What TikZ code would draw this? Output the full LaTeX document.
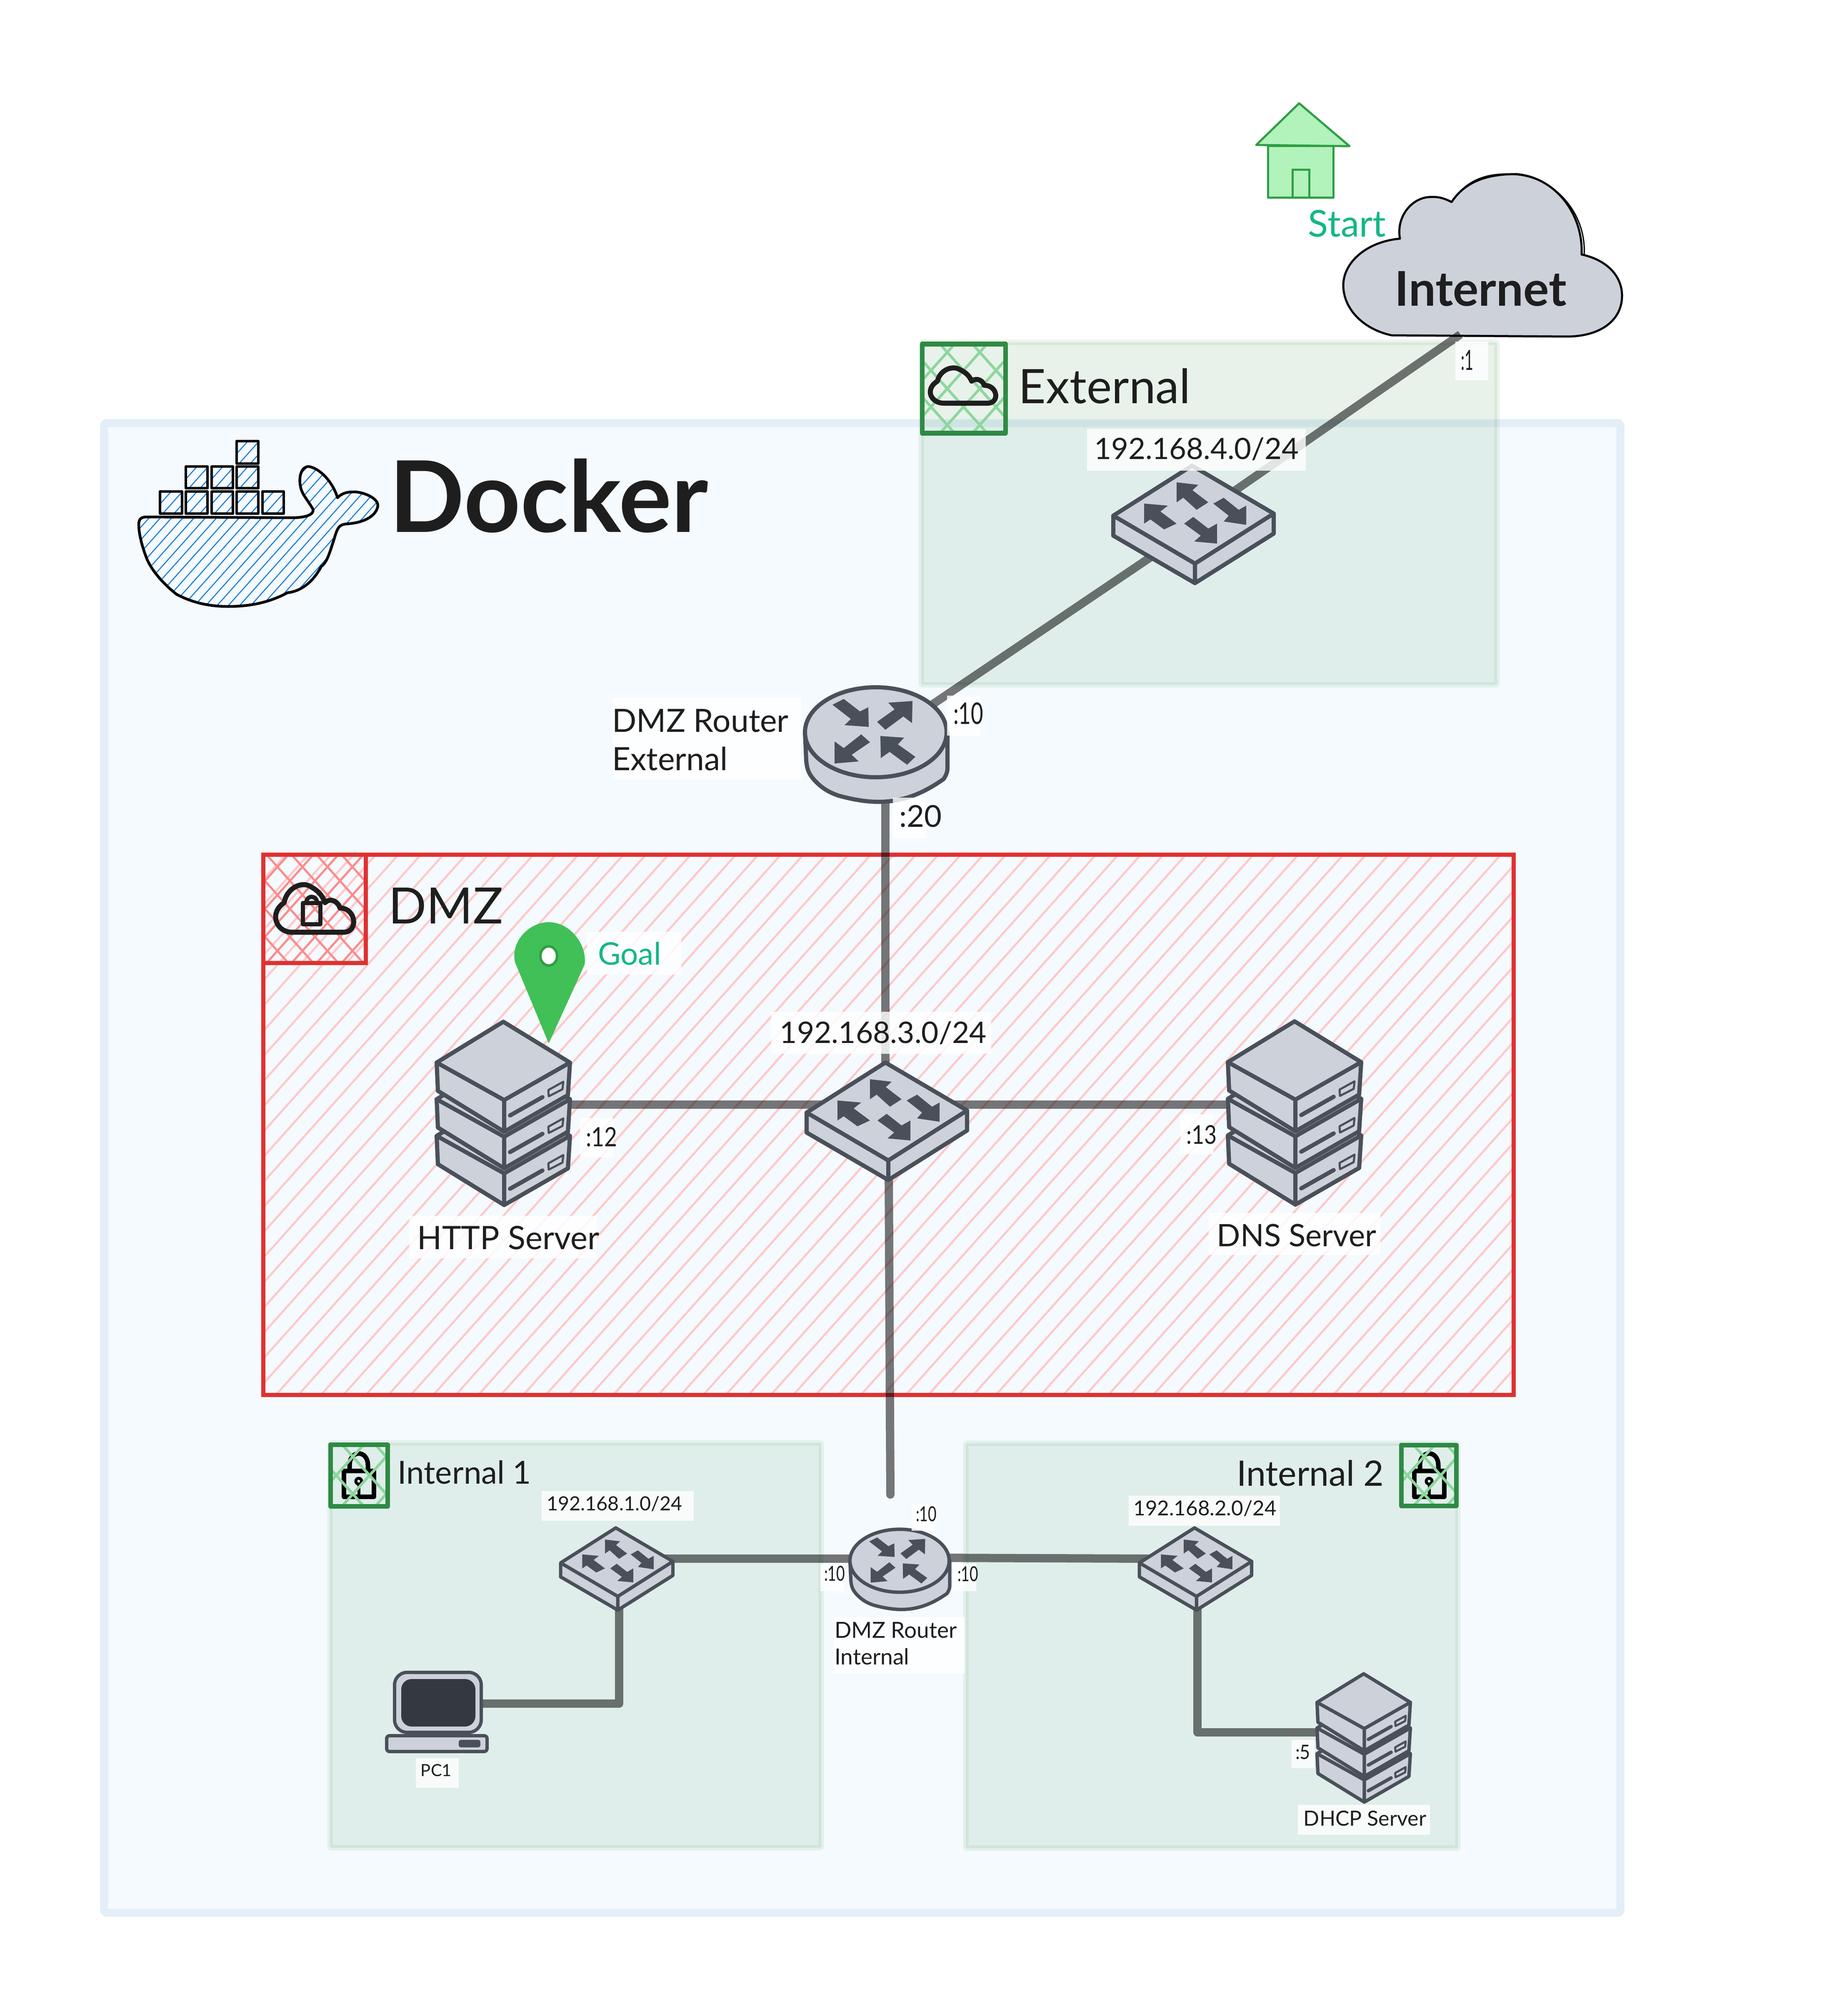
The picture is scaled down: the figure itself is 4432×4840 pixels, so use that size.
\documentclass[tikz,border=0pt]{standalone}
\usepackage{graphicx}
\usepackage{fontspec}
\setmainfont{Lato}
\definecolor{framestroke}{HTML}{E3EEF8}
\definecolor{framefill}{HTML}{F5FAFF}
\definecolor{zonegreen}{HTML}{479B58}
\definecolor{boxgreen}{HTML}{2F8A44}
\definecolor{hatchgreen}{HTML}{8DD79D}
\definecolor{dmzred}{HTML}{E03131}
\definecolor{hatchpink}{HTML}{FFC9C9}
\definecolor{hatchred}{HTML}{FF8A8A}
\definecolor{whaleblue}{HTML}{1C7ED6}
\definecolor{iconfill}{HTML}{CDD1DA}
\definecolor{icondark}{HTML}{4A5059}
\definecolor{screendark}{HTML}{343840}
\definecolor{inkblack}{HTML}{1E1E1E}
\definecolor{housefill}{HTML}{B2F2BB}
\definecolor{housestroke}{HTML}{2F9E44}
\definecolor{pingreen}{HTML}{40C057}
\definecolor{notegreen}{HTML}{12B886}
\tikzset{
  txt/.style={inner sep=0pt,text=inkblack},
  labelbg/.style={fill=white,fill opacity=.82},
  link/.style={draw=black,draw opacity=.53,line width=.2cm,line join=round},
  zone/.style={fill=zonegreen,fill opacity=.12,draw=zonegreen,draw opacity=.10,line width=.13cm,rounded corners=.04cm},
  iconbox/.style={draw=boxgreen,line width=.11cm,line join=round},
  glyph/.style={draw=inkblack,line width=.12cm,line join=round,line cap=round},
  whaleline/.style={draw=black,line width=.065cm,line join=round},
  hwhale/.style={draw=whaleblue,line width=.025cm},
}
\newcommand\fit[2]{\resizebox{#1cm}{!}{#2}}
\newcommand\tall[2]{\scalebox{1}[#1]{#2}}
\newcommand\hatchup[6]{%
  \pgfmathsetmacro\htchw{(#4-#2)/1.12}%
  \pgfmathsetmacro\htchs{#1-\htchw}%
  \pgfmathsetmacro\htchn{\htchs+#5}%
  \foreach \c in {\htchs,\htchn,...,#3}{\draw[#6] (\c,#4) -- (\c+\htchw,#2);}%
}
\newcommand\hatchdown[6]{%
  \pgfmathsetmacro\htchw{(#4-#2)/1.12}%
  \pgfmathsetmacro\htchs{#1-\htchw}%
  \pgfmathsetmacro\htchn{\htchs+#5}%
  \foreach \c in {\htchs,\htchn,...,#3}{\draw[#6] (\c,#2) -- (\c+\htchw,#4);}%
}
\newcommand\crossbox[6]{% x0 y0 x1 y1 step colour
  \begin{scope}
    \clip (#1,#2) rectangle (#3,#4);
    \hatchup{#1}{#2}{#3}{#4}{#5}{draw=#6,line width=.065cm}
    \hatchdown{#1}{#2}{#3}{#4}{#5}{draw=#6,line width=.065cm}
  \end{scope}
  \draw[iconbox] (#1,#2) rectangle (#3,#4);
}
\newcommand\container[4]{%
  \begin{scope}
    \clip (#1,#2) rectangle (#3,#4);
    \hatchup{#1}{#2}{#3}{#4}{27}{hwhale}
  \end{scope}
  \draw[whaleline] (#1,#2) rectangle (#3,#4);
}
\newcommand\lockicon[1]{% centre x
  \begin{scope}[shift={(#1,0)}]
    \draw[draw=black,line width=.11cm,line join=round] (-36,3531) rectangle (36,3593);
    \draw[draw=black,line width=.11cm] (-22,3531) -- (-22,3518) .. controls (-22,3480) and (22,3480) .. (22,3518) -- (22,3531);
    \draw[draw=black,line width=.07cm] (0,3556) circle (7);
    \draw[draw=black,line width=.07cm] (0,3564) -- (0,3593);
  \end{scope}
}
\newcommand\switchicon[3]{% x y scale
  \begin{scope}[shift={(#1,#2)},scale=#3,line join=round,line width={(0.04+0.06*#3)*1cm}]
    \path[fill=iconfill,draw=icondark] (-192,3) -- (-192,51) -- (4,165) -- (193,46) -- (193,-2) -- (-3,-117) -- cycle;
    \path[draw=icondark] (-192,3) -- (4,118) -- (193,-2) (4,118) -- (4,165);
    \fill[icondark] (-40,-77) -- (12,-71) -- (-2,-58) -- (36,-29) -- (8,-11) -- (-24,-40) -- (-40,-29) -- cycle;
    \fill[icondark] (-118,-26) -- (-61,-21) -- (-79,-7) -- (-40,22) -- (-70,36) -- (-103,12) -- (-118,22) -- cycle;
    \fill[icondark] (127,25) -- (127,-21) -- (109,-11) -- (73,-40) -- (48,-26) -- (85,3) -- (73,17) -- cycle;
    \fill[icondark] (57,70) -- (57,22) -- (36,34) -- (0,6) -- (-22,22) -- (18,51) -- (2,65) -- cycle;
  \end{scope}
}
\newcommand\routericon[3]{% x y scale
  \begin{scope}[shift={(#1,#2)},scale=#3,line join=round,line width={(0.04+0.06*#3)*1cm}]
    \path[fill=iconfill,draw=icondark] (-170,0) -- (-167,68) .. controls (-165,90) and (-160,100) .. (-150,112) .. controls (-130,135) and (-110,145) .. (-90,152) .. controls (-50,163) and (-20,167) .. (7,167) .. controls (60,167) and (110,150) .. (163,112) .. controls (172,98) and (172,90) .. (172,85) -- (172,0) -- cycle;
    \path[fill=iconfill,draw=icondark] (0,0) ellipse [x radius=170,y radius=108];
    \fill[icondark] (-77,-80) -- (-38,-50) -- (-18,-60) -- (-17,-13) -- (-75,-17) -- (-60,-32) -- (-104,-66) -- cycle;
    \fill[icondark] (88,-75) -- (87,-22) -- (66,-38) -- (23,-6) -- (3,-25) -- (45,-55) -- (30,-71) -- cycle;
    \fill[icondark] (-99,22) -- (-77,38) -- (-35,5) -- (-14,24) -- (-58,54) -- (-41,70) -- (-99,75) -- cycle;
    \fill[icondark] (11,9) -- (68,13) -- (53,29) -- (95,59) -- (75,78) -- (33,47) -- (12,62) -- cycle;
  \end{scope}
}
\newcommand\serverbox[1]{% vertical offset
  \begin{scope}[yshift=-#1*0.01cm]
    \path[fill=iconfill,draw=icondark] (-160,0) -- (-157,68) -- (2,166) -- (155,78) -- (160,0) -- (0,-98) -- cycle;
    \path[draw=icondark] (-160,0) -- (2,90) -- (160,0) (2,90) -- (2,166);
    \draw[draw=icondark,line cap=round] (16,127) -- (94,83);
    \draw[draw=icondark,line width=.05cm] (108,66) -- (144,46) -- (142,64) -- (109,81) -- cycle;
  \end{scope}
}
\newcommand\servericon[3]{% x y scale
  \begin{scope}[shift={(#1,#2)},scale=#3,line join=round,line width={(0.04+0.06*#3)*1cm}]
    \serverbox{176}
    \serverbox{88}
    \serverbox{0}
  \end{scope}
}
\newcommand\lbl[9]{% name x1 y1 x2 y2 tx ty width text
  \fill[labelbg] (#2,#3) rectangle (#4,#5);
  \node[txt] (#1) at (#6,#7) {\fit{#8}{#9}};
}
\begin{document}
\begin{tikzpicture}[x=0.01cm,y=-0.01cm]
\useasboundingbox (0,0) rectangle (4432,4840);
\fill[white] (0,0) rectangle (4432,4840);

% Docker frame
\draw[draw=framestroke,fill=framefill,line width=.19cm,rounded corners=.06cm] (250,1016) rectangle (3889,4592);

% Whale
\begin{scope}
  \clip (353,1241) -- (700,1243) .. controls (735,1243) and (755,1235) .. (751,1222) .. controls (735,1195) and (722,1185) .. (720,1160) .. controls (718,1140) and (725,1120) .. (741,1120) .. controls (770,1125) and (800,1160) .. (810,1195) .. controls (825,1180) and (840,1181) .. (855,1181) .. controls (885,1185) and (907,1200) .. (907,1213) .. controls (905,1235) and (880,1255) .. (830,1258) .. controls (815,1260) and (810,1265) .. (802,1294) .. controls (790,1330) and (785,1350) .. (771,1360) .. controls (750,1400) and (720,1420) .. (690,1423) .. controls (640,1450) and (590,1456) .. (547,1456) .. controls (480,1456) and (440,1435) .. (424,1427) .. controls (390,1400) and (365,1370) .. (353,1343) .. controls (340,1310) and (333,1280) .. (333,1259) .. controls (333,1245) and (340,1241) .. (353,1241) -- cycle;
  \hatchup{333}{1120}{907}{1456}{27}{hwhale}
\end{scope}
\draw[whaleline] (353,1241) -- (700,1243) .. controls (735,1243) and (755,1235) .. (751,1222) .. controls (735,1195) and (722,1185) .. (720,1160) .. controls (718,1140) and (725,1120) .. (741,1120) .. controls (770,1125) and (800,1160) .. (810,1195) .. controls (825,1180) and (840,1181) .. (855,1181) .. controls (885,1185) and (907,1200) .. (907,1213) .. controls (905,1235) and (880,1255) .. (830,1258) .. controls (815,1260) and (810,1265) .. (802,1294) .. controls (790,1330) and (785,1350) .. (771,1360) .. controls (750,1400) and (720,1420) .. (690,1423) .. controls (640,1450) and (590,1456) .. (547,1456) .. controls (480,1456) and (440,1435) .. (424,1427) .. controls (390,1400) and (365,1370) .. (353,1343) .. controls (340,1310) and (333,1280) .. (333,1259) .. controls (333,1245) and (340,1241) .. (353,1241) -- cycle;
\container{384}{1180}{437}{1233}
\container{446}{1180}{498}{1233}
\container{508}{1180}{559}{1233}
\container{568}{1180}{620}{1233}
\container{630}{1180}{681}{1233}
\container{446}{1120}{498}{1172}
\container{508}{1120}{559}{1172}
\container{568}{1120}{620}{1172}
\container{568}{1059}{620}{1113}
\node[txt,font=\bfseries] (dockerTitle) at (1317,1190) {\fit{7.65}{Docker}};

% DMZ zone
\begin{scope}
  \clip (632,2052) rectangle (3633,3349);
  \hatchup{632}{2052}{3633}{3349}{54}{draw=hatchpink,line width=.05cm}
\end{scope}
\draw[draw=dmzred,line width=.1cm] (632,2052) rectangle (3633,3349);
\begin{scope}
  \clip (632,2052) rectangle (878,2312);
  \hatchup{632}{2052}{878}{2312}{60}{draw=hatchred,line width=.05cm}
  \hatchdown{632}{2052}{878}{2312}{60}{draw=hatchred,line width=.05cm}
\end{scope}
\draw[draw=dmzred,line width=.1cm] (632,2052) rectangle (878,2312);
\draw[glyph] (700,2238) .. controls (664,2238) and (644,2193) .. (682,2167) .. controls (688,2133) and (724,2113) .. (748,2130) .. controls (766,2140) and (775,2153) .. (780,2167) .. controls (795,2153) and (813,2167) .. (816,2180) .. controls (855,2180) and (861,2238) .. (825,2238) -- cycle;
\draw[glyph,line width=.1cm] (727,2168) rectangle (769,2219);
\draw[glyph,line width=.1cm] (735,2168) .. controls (735,2148) and (761,2148) .. (761,2168);
\node[txt] (dmzTitle) at (1070,2174) {\fit{2.75}{DMZ}};

% Green zones
\draw[zone] (2211,822) rectangle (3593,1644);
\draw[zone] (792,3464) rectangle (1971,4436);
\draw[zone] (2318,3465) rectangle (3499,4437);

% Zone icon boxes
\crossbox{2213}{826}{2413}{1040}{78}{hatchgreen}
\draw[glyph] (2265,968) .. controls (2235,968) and (2218,935) .. (2250,915) .. controls (2255,890) and (2285,875) .. (2305,888) .. controls (2320,895) and (2328,905) .. (2332,915) .. controls (2345,905) and (2360,915) .. (2362,925) .. controls (2395,925) and (2400,968) .. (2370,968) -- cycle;
\lockicon{861}
\crossbox{793}{3468}{930}{3616}{80}{hatchgreen}
\lockicon{3430}
\crossbox{3363}{3469}{3495}{3615}{80}{hatchgreen}
\node[txt] (externalTitle) at (2651,927) {\fit{4.12}{External}};
\node[txt] (internal1Title) at (1115,3535) {\fit{3.2}{Internal 1}};
\node[txt] (internal2Title) at (3145,3537) {\fit{3.53}{Internal 2}};

% House
\draw[draw=housestroke,fill=housefill,line width=.05cm,line join=round] (3043,351) -- (3043,475) -- (3200,475) -- (3200,351) -- cycle;
\draw[draw=housestroke,fill=housefill,line width=.05cm,line join=round] (3118,248) -- (3239,351) -- (3015,348) -- cycle;
\draw[draw=housestroke,line width=.05cm] (3102,475) -- (3102,408) -- (3142,408) -- (3142,475);
\node[txt] (startNote) at (3233,537) {\fit{1.86}{\color{notegreen}Start}};

% Internet cloud
\path[fill=iconfill,draw=black,line width=.05cm,line join=round] (3340,805) .. controls (3270,790) and (3224,740) .. (3224,685) .. controls (3224,630) and (3280,580) .. (3360,573) .. controls (3350,520) and (3390,470) .. (3439,473) .. controls (3455,472) and (3470,478) .. (3484,485) .. controls (3520,430) and (3580,418) .. (3639,418) .. controls (3730,425) and (3800,510) .. (3796,611) .. controls (3860,625) and (3893,665) .. (3893,710) .. controls (3893,770) and (3840,808) .. (3760,808) -- cycle;
\draw[draw=black,line width=.03cm] (3490,478) .. controls (3525,425) and (3585,412) .. (3645,420) .. controls (3735,430) and (3808,515) .. (3802,612);
\node[txt,font=\bfseries] (internetTitle) at (3554,693) {\fit{4.12}{Internet}};

% Connector anchor points
\coordinate (inetP) at (3505,803);
\coordinate (sw4a) at (2900,1222);
\coordinate (sw4b) at (2850,1278);
\coordinate (rtrEp) at (2130,1764);
\coordinate (rtrEs) at (2125,1900);
\coordinate (sw3n) at (2125,2600);
\coordinate (sw3s) at (2133,2800);
\coordinate (freeEnd) at (2137,3588);
\coordinate (httpP) at (1300,2652);
\coordinate (sw3w) at (2000,2652);
\coordinate (sw3e) at (2250,2652);
\coordinate (dnsP) at (3000,2652);
\coordinate (sw1e) at (1590,3742);
\coordinate (rtrIw) at (2060,3742);
\coordinate (rtrIe) at (2260,3740);
\coordinate (sw2w) at (2760,3742);
\coordinate (sw1s) at (1486,3850);
\coordinate (pcP) at (1140,4090);
\coordinate (sw2s) at (2874,3850);
\coordinate (dhcpP) at (3200,4159);

% Connectors
\draw[link] (inetP) -- (sw4a);
\draw[link] (sw4b) -- (rtrEp);
\draw[link] (rtrEs) -- (sw3n);
\draw[link,line cap=round] (sw3s) -- (freeEnd);
\draw[link] (httpP) -- (sw3w);
\draw[link] (sw3e) -- (dnsP);
\draw[link] (sw1e) -- (rtrIw);
\draw[link] (rtrIe) -- (sw2w);
\draw[link] (pcP) -| (sw1s);
\draw[link] (sw2s) |- (dhcpP);

% Devices
\switchicon{2864}{1235}{1}
\routericon{2102}{1758}{1}
\switchicon{2128}{2668}{1}
\servericon{1208}{2551}{1}
\servericon{3107}{2550}{1}
\routericon{2159}{3747}{.7}
\switchicon{1480}{3750}{.7}
\switchicon{2869}{3750}{.7}
\servericon{3273}{4087}{.7}

% PC
\draw[draw=icondark,fill=iconfill,line width=.08cm,rounded corners=.3cm] (947,4015) rectangle (1155,4159);
\fill[screendark,rounded corners=.25cm] (963,4031) rectangle (1141,4145);
\fill[icondark] (1027,4159) rectangle (1077,4167);
\draw[draw=icondark,fill=iconfill,line width=.08cm,rounded corners=.07cm] (928,4167) rectangle (1169,4205);
\fill[icondark,rounded corners=.05cm] (1101,4177) rectangle (1153,4195);

% Goal pin
\fill[pingreen] (1317,2505) -- (1236,2310) .. controls (1225,2260) and (1270,2214) .. (1317,2214) .. controls (1370,2214) and (1410,2270) .. (1403,2316) -- cycle;
\draw[draw=housestroke,fill=white,line width=.06cm] (1317,2295) ellipse [x radius=20,y radius=23];

% Labels
\lbl{ipExt}{2609}{1030}{3134}{1130}{2872}{1078}{4.91}{192.168.4.0/24}
\lbl{portInet}{3493}{820}{3572}{913}{3521}{865}{.30}{\tall{1.85}{:1}}
\lbl{rtrELabel}{1470}{1676}{1923}{1871}{1681}{1785}{4.23}{\begin{tabular}{@{}l@{}}DMZ Router\\External\end{tabular}}
\lbl{portRtrEa}{2273}{1670}{2353}{1766}{2324}{1713}{.72}{\tall{1.4}{:10}}
\lbl{portRtrEb}{2143}{1915}{2223}{2012}{2209}{1960}{1.02}{:20}
\lbl{ipDmz}{1851}{2429}{2379}{2530}{2120}{2480}{4.96}{192.168.3.0/24}
\lbl{goalNote}{1409}{2237}{1635}{2340}{1511}{2289}{1.51}{\color{notegreen}Goal}
\lbl{portHttp}{1392}{2684}{1472}{2779}{1444}{2730}{.75}{\tall{1.2}{:12}}
\lbl{portDns}{2833}{2675}{2913}{2771}{2884}{2724}{.73}{\tall{1.2}{:13}}
\lbl{httpLabel}{982}{2919}{1432}{3021}{1220}{2972}{4.36}{HTTP Server}
\lbl{dnsLabel}{2901}{2912}{3313}{3013}{3112}{2966}{3.82}{DNS Server}
\lbl{ipOne}{1300}{3580}{1665}{3651}{1475}{3610}{3.25}{192.168.1.0/24}
\lbl{ipTwo}{2709}{3591}{3072}{3663}{2892}{3621}{3.43}{192.168.2.0/24}
\lbl{portRtrIt}{2188}{3610}{2245}{3675}{2223}{3635}{.50}{\tall{1.4}{:10}}
\lbl{portRtrIl}{1969}{3754}{2025}{3820}{2003}{3778}{.50}{\tall{1.4}{:10}}
\lbl{portRtrIr}{2286}{3754}{2343}{3820}{2323}{3779}{.50}{\tall{1.4}{:10}}
\lbl{rtrILabel}{2001}{3882}{2315}{4017}{2150}{3952}{2.93}{\begin{tabular}{@{}l@{}}DMZ Router\\Internal\end{tabular}}
\lbl{pcLabel}{998}{4221}{1101}{4292}{1047}{4250}{.74}{PC1}
\lbl{portDhcp}{3100}{4177}{3155}{4245}{3127}{4207}{.36}{\tall{1.1}{:5}}
\lbl{dhcpLabel}{3115}{4333}{3432}{4405}{3276}{4365}{2.94}{DHCP Server}
\end{tikzpicture}
\end{document}
